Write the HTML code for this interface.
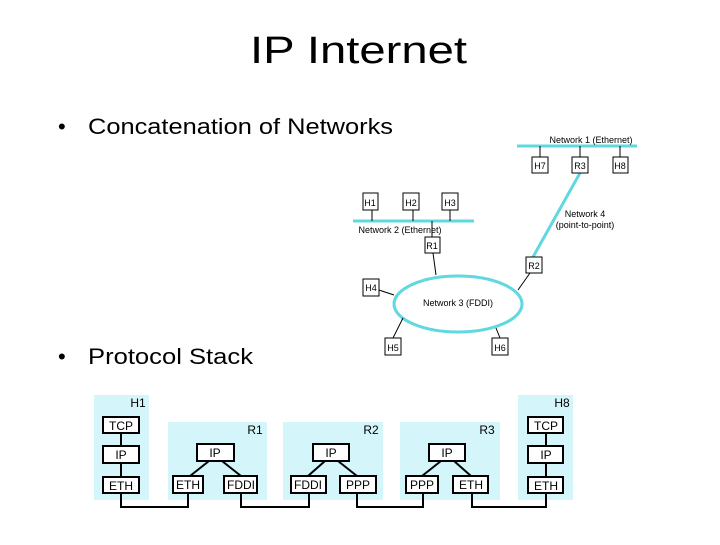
<!DOCTYPE html>
<html><head><style>
body{margin:0;width:720px;height:540px;background:#fff;overflow:hidden;font-family:"Liberation Sans",sans-serif}
</style></head><body>
<svg width="720" height="540" xmlns="http://www.w3.org/2000/svg" font-family="Liberation Sans, sans-serif">
<text x="250" y="63" font-size="38" textLength="217" lengthAdjust="spacingAndGlyphs">IP Internet</text>
<text x="58" y="134" font-size="22">•</text>
<text x="88" y="134" font-size="22" textLength="305" lengthAdjust="spacingAndGlyphs">Concatenation of Networks</text>
<text x="58" y="364" font-size="22">•</text>
<text x="88" y="364" font-size="22" textLength="165" lengthAdjust="spacingAndGlyphs">Protocol Stack</text>
<!-- networks -->
<line x1="517" y1="146" x2="637" y2="146" stroke="#5fd8e0" stroke-width="3"/>
<line x1="353" y1="221" x2="474" y2="221" stroke="#5fd8e0" stroke-width="3"/>
<line x1="580" y1="173" x2="533" y2="257" stroke="#5fd8e0" stroke-width="3"/>
<ellipse cx="458" cy="304" rx="64" ry="28" fill="none" stroke="#5fd8e0" stroke-width="3"/>
<g stroke="#000" stroke-width="1">
<line x1="540" y1="146" x2="540" y2="157"/><line x1="580" y1="146" x2="580" y2="157"/><line x1="620" y1="146" x2="620" y2="157"/>
<line x1="372" y1="210" x2="372" y2="221"/><line x1="413" y1="210" x2="413" y2="221"/><line x1="450" y1="210" x2="450" y2="221"/>
<line x1="432" y1="221" x2="432" y2="237"/>
<line x1="433" y1="253" x2="436" y2="275"/><line x1="530" y1="273" x2="518" y2="290"/>
<line x1="379" y1="290" x2="394" y2="295"/><line x1="403" y1="318" x2="393" y2="338"/><line x1="496" y1="328" x2="500" y2="338"/>
</g>
<g fill="#fff" stroke="#000" stroke-width="1">
<rect x="532" y="157" width="16" height="16"/><rect x="572" y="157" width="16" height="16"/><rect x="613" y="157" width="15" height="16"/>
<rect x="363" y="193" width="15" height="17"/><rect x="403" y="193" width="16" height="17"/><rect x="442" y="193" width="16" height="17"/>
<rect x="425" y="237" width="15" height="16"/><rect x="526" y="257" width="16" height="16"/>
<rect x="363" y="279" width="16" height="17"/><rect x="385" y="338" width="16" height="17"/><rect x="492" y="338" width="16" height="17"/>
</g>
<g font-size="9" text-anchor="middle">
<text x="540" y="169">H7</text><text x="580" y="169">R3</text><text x="620" y="169">H8</text>
<text x="370" y="206">H1</text><text x="411" y="206">H2</text><text x="450" y="206">H3</text>
<text x="432" y="249">R1</text><text x="534" y="269">R2</text>
<text x="371" y="291">H4</text><text x="393" y="351">H5</text><text x="500" y="351">H6</text>
<text x="591" y="143">Network 1 (Ethernet)</text>
<text x="400" y="233">Network 2 (Ethernet)</text>
<text x="585" y="217">Network 4</text><text x="585" y="228">(point-to-point)</text>
<text x="458" y="306">Network 3 (FDDI)</text>
</g>
<!-- protocol stack -->
<g fill="#d4f6fa">
<rect x="94" y="395" width="55" height="105"/><rect x="168" y="422" width="99" height="78"/>
<rect x="283" y="422" width="100" height="78"/><rect x="400" y="422" width="100" height="78"/>
<rect x="518" y="395" width="55" height="105"/>
</g>
<g stroke="#000" stroke-width="2" fill="none">
<line x1="121" y1="433" x2="121" y2="477"/><line x1="546" y1="433" x2="546" y2="477"/>
<line x1="209" y1="461" x2="190" y2="476"/><line x1="222" y1="461" x2="241" y2="476"/>
<line x1="325" y1="461" x2="308" y2="476"/><line x1="338" y1="461" x2="357" y2="476"/>
<line x1="441" y1="461" x2="422" y2="476"/><line x1="454" y1="461" x2="471" y2="476"/>
<polyline points="121,493 121,507 188,507 188,493"/>
<polyline points="241,493 241,507 309,507 309,493"/>
<polyline points="357,493 357,507 423,507 423,493"/>
<polyline points="472,493 472,507 546,507 546,493"/>
</g>
<g fill="#fff" stroke="#000" stroke-width="2">
<rect x="103" y="417" width="36" height="16"/><rect x="103" y="446" width="36" height="17"/><rect x="103" y="477" width="36" height="16"/>
<rect x="528" y="417" width="35" height="16"/><rect x="528" y="446" width="35" height="17"/><rect x="528" y="477" width="35" height="16"/>
<rect x="197" y="444" width="37" height="17"/><rect x="173" y="476" width="30" height="17"/><rect x="224" y="476" width="33" height="17"/>
<rect x="313" y="444" width="36" height="17"/><rect x="291" y="476" width="35" height="17"/><rect x="340" y="476" width="36" height="17"/>
<rect x="429" y="444" width="36" height="17"/><rect x="406" y="476" width="32" height="17"/><rect x="453" y="476" width="35" height="17"/>
</g>
<g font-size="12" text-anchor="middle">
<text x="121" y="430">TCP</text><text x="121" y="459">IP</text><text x="121" y="490">ETH</text>
<text x="546" y="430">TCP</text><text x="546" y="459">IP</text><text x="546" y="490">ETH</text>
<text x="215" y="457">IP</text><text x="188" y="489">ETH</text><text x="241" y="489">FDDI</text>
<text x="331" y="457">IP</text><text x="308" y="489">FDDI</text><text x="358" y="489">PPP</text>
<text x="447" y="457">IP</text><text x="422" y="489">PPP</text><text x="471" y="489">ETH</text>
<text x="138" y="407">H1</text><text x="255" y="434">R1</text><text x="371" y="434">R2</text>
<text x="487" y="434">R3</text><text x="562" y="407">H8</text>
</g>
</svg>
</body></html>
